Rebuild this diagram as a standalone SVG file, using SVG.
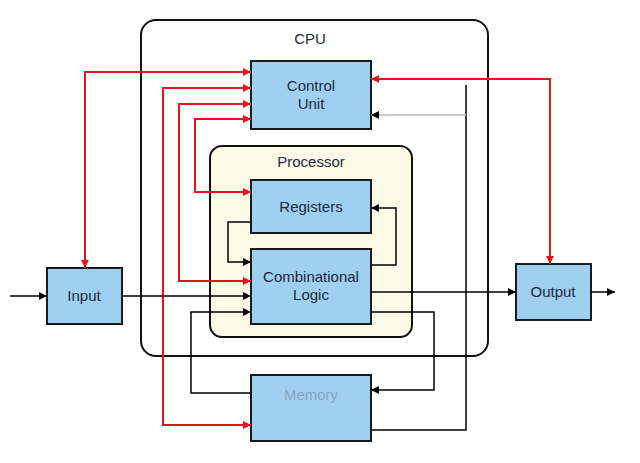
<svg xmlns="http://www.w3.org/2000/svg" width="640" height="463" viewBox="0 0 640 463">
<defs>
<marker id="ar" viewBox="0 0 10 10" refX="10" refY="5" markerWidth="10" markerHeight="8" orient="auto" markerUnits="userSpaceOnUse"><path d="M0,0L10,5L0,10z" fill="#e8141a"/></marker>
<marker id="ab" viewBox="0 0 10 10" refX="10" refY="5" markerWidth="10" markerHeight="8" orient="auto" markerUnits="userSpaceOnUse"><path d="M0,0L10,5L0,10z" fill="#000"/></marker>
</defs>
<style>
.n{fill:#9fd0f2;stroke:#1a1a1a;stroke-width:2}
.t{font-family:"Liberation Sans",Arial,sans-serif;font-size:15px;fill:#1a2a40;text-anchor:middle}
.r{fill:none;stroke:#e8141a;stroke-width:2;marker-end:url(#ar)}
.rn{fill:none;stroke:#e8141a;stroke-width:2}
.b{fill:none;stroke:#000;stroke-width:1.5;marker-end:url(#ab)}
.bn{fill:none;stroke:#000;stroke-width:1.5}
</style>
<rect width="640" height="463" fill="#fff"/>
<g id="cpu"><rect x="141" y="20" width="347" height="336" rx="15" fill="#fff" stroke="#111" stroke-width="2"/><text class="t" x="310" y="44">CPU</text></g>
<g id="processor"><rect x="210" y="146" width="202" height="191" rx="12" fill="#fdfbe8" stroke="#111" stroke-width="2"/><text class="t" x="311" y="167">Processor</text></g>
<g id="control"><rect class="n" x="251" y="61" width="120" height="68"/><text class="t" x="311" y="91">Control</text><text class="t" x="311" y="109">Unit</text></g>
<g id="registers"><rect class="n" x="251" y="180" width="120" height="53"/><text class="t" x="311" y="212">Registers</text></g>
<g id="logic"><rect class="n" x="251" y="249" width="120" height="75"/><text class="t" x="311" y="282">Combinational</text><text class="t" x="311" y="300">Logic</text></g>
<g id="memory"><rect class="n" x="251" y="375" width="120" height="66"/><text class="t" x="311" y="400" style="fill:#8aa4c0">Memory</text></g>
<g id="input"><rect class="n" x="47" y="268" width="75" height="56"/><text class="t" x="84" y="301">Input</text></g>
<g id="output"><rect class="n" x="516" y="264" width="75" height="56"/><text class="t" x="553" y="297">Output</text></g>
<g id="connectors">
<path class="r" d="M85,100V72H251"/>
<path class="r" d="M85,90V268"/>
<path class="r" d="M163,300V88H251"/>
<path class="r" d="M163,88V425H251"/>
<path class="r" d="M179,200V104H251"/>
<path class="r" d="M179,104V281H251"/>
<path class="r" d="M195,150V119H251"/>
<path class="r" d="M195,119V192H251"/>
<path class="r" d="M550,150V79H371"/>
<path class="r" d="M550,79V264"/>
<path class="bn" d="M371,430H466V85"/>
<path class="b" d="M466,115H371" style="stroke:#bbb"/>
<path class="b" d="M251,222H228V262H251"/>
<path class="b" d="M371,265H396V208H371"/>
<path class="b" d="M122,296H251"/>
<path class="b" d="M10,296H47"/>
<path class="b" d="M371,292H516"/>
<path class="b" d="M591,292H615"/>
<path class="b" d="M371,312H434V390H371"/>
<path class="b" d="M251,393H191V312H251"/>
</g>
</svg>
